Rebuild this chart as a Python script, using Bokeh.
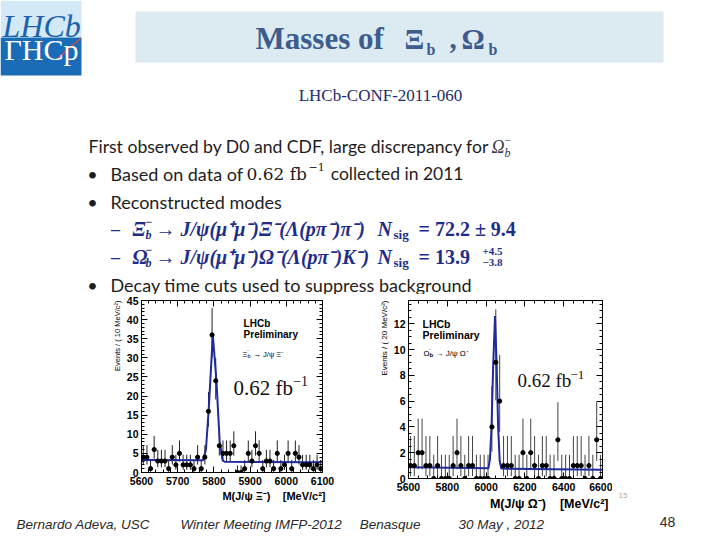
import math
from bokeh.plotting import figure
from bokeh.models import Range1d, Label, LinearAxis, SingleIntervalTicker, Spacer, Title
from bokeh.layouts import column, row
from bokeh.embed import file_html
from bokeh.resources import INLINE

# ---------------------------------------------------------------- data
# Xi_b candidates, 10 MeV/c^2 bins from 5600 to 6100
xib_lo, xib_bin = 5600, 10
xib_counts = [4, 4, 1, 6, 3, 3, 3, 1, 4, 2,
              5, 2, 2, 2, 1, 4, 1, 4, 16, 36,
              24, 7, 5, 5, 5, 7, 0, 0, 1, 5,
              3, 7, 5, 1, 3, 3, 1, 5, 1, 2,
              5, 1, 5, 4, 2, 2, 2, 1, 2, 1]
# fitted signal + background shape
xib_fit_mass = [5600, 5770, 5778, 5786, 5797, 5807, 5816, 5824, 5830, 6100]
xib_fit_evts = [3.3, 3.2, 6.0, 17.0, 36.0, 24.0, 8.0, 3.2, 2.8, 2.7]

# Omega_b candidates, 20 MeV/c^2 bins from 5600 to 6600
omb_lo, omb_bin = 5600, 20
omb_counts = [1, 1, 2, 2, 1, 1, 0, 1, 0, 0,
              0, 1, 2, 1, 0, 1, 1, 0, 0, 0,
              0, 4, 9, 6, 1, 1, 1, 0, 0, 2,
              0, 2, 1, 0, 1, 1, 0, 0, 3, 0,
              0, 0, 1, 1, 1, 0, 1, 0, 3, 0]
omb_fit_mass = [5600, 6012, 6020, 6028, 6036, 6046, 6054, 6062, 6070, 6078, 6600]
omb_fit_evts = [0.87, 0.80, 1.5, 4.0, 8.5, 12.6, 9.0, 4.0, 1.4, 0.77, 0.68]

xib_ticks_x, xib_ticks_y = 100, 5
omb_ticks_x, omb_ticks_y = 200, 2

GAP = "\u00a0\u00a0\u00a0\u00a0"

# ---------------------------------------------------------------- helpers
def pois_cdf(k, mu):
    term = math.exp(-mu)
    s = term
    for i in range(1, k + 1):
        term *= mu / i
        s += term
    return s


def poisson_interval(n, tail=0.158655):
    """Central 68.3% Poisson interval (as drawn by ROOT for event counts)."""
    def solve(f, target):
        lo, hi = 0.0, n + 20 + 10 * math.sqrt(n + 1)
        for _ in range(80):
            mid = 0.5 * (lo + hi)
            if f(mid) > target:
                lo = mid
            else:
                hi = mid
        return 0.5 * (lo + hi)
    low = 0.0 if n == 0 else solve(lambda mu: pois_cdf(n - 1, mu), 1 - tail)
    up = solve(lambda mu: pois_cdf(n, mu), tail)
    return low, up


def put(fig, x, y, s, size, font="Lato", style="normal", color="#1a1a1a",
        align="left", baseline="middle", angle=0.0, dx=0, dy=0):
    fig.add_layout(Label(x=x, y=y, text=s, text_font_size=f"{size}px",
                         text_font=font, text_font_style=style,
                         text_color=color, text_align=align,
                         text_baseline=baseline, angle=angle,
                         x_offset=dx, y_offset=dy))


def canvas(width, height, x0, x1, y_top, y_bottom):
    """Axis-free figure whose data units are slide pixels (y grows downward)."""
    fig = figure(width=width, height=height, x_range=Range1d(x0, x1),
                 y_range=Range1d(y_bottom, y_top), output_backend="svg",
                 toolbar_location=None, min_border=0,
                 x_axis_type=None, y_axis_type=None)
    fig.grid.visible = False
    fig.outline_line_color = None
    fig.background_fill_color = "white"
    fig.border_fill_color = "white"
    return fig


TICK_FONT = "Liberation Sans"


def root_style(p, xint, yint, xminor, yminor, xlabel, ylabel, xl_size, yl_size,
               xl_standoff, xl_offset):
    p.grid.visible = False
    p.outline_line_color = "black"
    p.outline_line_width = 1
    p.background_fill_color = "white"
    p.border_fill_color = "white"
    for ax, iv, nm in ((p.xaxis[0], xint, xminor), (p.yaxis[0], yint, yminor)):
        ax.ticker = SingleIntervalTicker(interval=iv, num_minor_ticks=nm)
        ax.major_tick_in, ax.major_tick_out = 6, 0
        ax.minor_tick_in, ax.minor_tick_out = 3, 0
        ax.axis_line_color = "black"
        ax.major_label_text_font = TICK_FONT
        ax.major_label_text_font_style = "bold"
        ax.major_label_text_font_size = "10.5px"
        ax.major_label_text_color = "black"
    p.xaxis[0].major_label_standoff = 4
    p.yaxis[0].major_label_standoff = 3
    # axis titles flush with the far end of each axis
    p.add_layout(Title(text=xlabel, align="right", text_font=TICK_FONT,
                       text_font_style="bold", text_font_size=f"{xl_size}px",
                       text_color="black", standoff=xl_standoff,
                       offset=xl_offset), "below")
    p.add_layout(Title(text=ylabel, align="right", text_font=TICK_FONT,
                       text_font_style="normal", text_font_size=f"{yl_size}px",
                       text_color="black", standoff=3), "left")
    # ticks on the opposite sides, no labels
    for side, iv, nm in (("right", yint, yminor), ("above", xint, xminor)):
        ax = LinearAxis(ticker=SingleIntervalTicker(interval=iv, num_minor_ticks=nm),
                        major_tick_in=6, major_tick_out=0,
                        minor_tick_in=3, minor_tick_out=0,
                        major_label_text_font_size="0px",
                        major_label_standoff=0)
        p.add_layout(ax, side)


def draw_hist(p, lo, width, counts, fit_x, fit_y, bar_color, size=4.2):
    centers = [lo + width * (i + 0.5) for i in range(len(counts))]
    lows, highs = zip(*[poisson_interval(n) for n in counts])
    p.segment(x0=centers, y0=list(lows), x1=centers, y1=list(highs),
              line_color=bar_color, line_width=1)
    p.segment(x0=[c - width / 2 for c in centers], y0=counts,
              x1=[c + width / 2 for c in centers], y1=counts,
              line_color=bar_color, line_width=1)
    p.line(fit_x, fit_y, line_color="#1f2a9c", line_width=2)
    p.scatter(centers, counts, size=size, color="black")


# ---------------------------------------------------------------- header
header = canvas(720, 294, 0, 720, 0, 294)

# logo
header.quad(left=0, right=81, top=0, bottom=37, fill_color="#d3e9f6", line_color=None)
header.quad(left=0, right=81, top=37, bottom=75, fill_color="#1a6cb6", line_color=None)
put(header, 2, 25.5, "LHCb", 32, font="Liberation Serif", style="italic",
    color="#1e62ab")
put(header, 4, 48.5, "ΓHCp", 30, font="Liberation Serif", color="white")
header.line([57, 80], [58, 38], line_color="#d9474a", line_width=1.3)

# title banner
header.quad(left=135, right=663, top=11, bottom=62, fill_color="#dceaf2", line_color=None)
TITLE_C = "#3d5c8e"
put(header, 255, 38, "Masses of", 31, font="Liberation Serif", style="bold", color=TITLE_C)
put(header, 404, 38, "Ξ", 29, font="Liberation Serif", style="bold", color=TITLE_C)
put(header, 426, 49, "b", 16, font="Liberation Serif", style="bold", color=TITLE_C)
put(header, 449, 38, ",", 29, font="Liberation Serif", style="bold", color=TITLE_C)
put(header, 461, 38, "Ω", 29, font="Liberation Serif", style="bold", color=TITLE_C)
put(header, 488, 49, "b", 16, font="Liberation Serif", style="bold", color=TITLE_C)

put(header, 380, 95, "LHCb-CONF-2011-060", 17, font="Liberation Serif",
    color="#1c2a6c", align="center")

# bullet list
TXT = "#1d1d1d"
MATH = "#3a3a48"
BLUE = "#1f2d8a"
put(header, 88, 146, "First observed by D0 and CDF, large discrepancy for", 17.6, color=TXT)
put(header, 491, 146, "Ω", 18, font="Liberation Serif", style="italic", color=MATH)
put(header, 504, 152, "b", 12, font="Liberation Serif", style="italic", color=MATH)
put(header, 504, 139, "−", 12, font="Liberation Serif", color=MATH)

put(header, 92, 173, "•", 18, color=TXT, align="center")
put(header, 110, 173, "Based on data of", 18, color=TXT)
put(header, 246, 173, "0.62 fb", 17, font="DejaVu Serif", color=TXT)
put(header, 308, 166, "−1", 11, font="DejaVu Serif", color=TXT)
put(header, 463, 173, "collected in 2011", 17.5, color=TXT, align="right")

put(header, 92, 201, "•", 18, color=TXT, align="center")
put(header, 110, 201, "Reconstructed modes", 18, color=TXT)

FM = "Liberation Serif"
for yy, head, chain, result, sup, sub in (
        (228, "Ξ", "→ J/ψ(μ⁺μ⁻)Ξ⁻(Λ(pπ⁻)π⁻)", "= 72.2 ± 9.4", None, None),
        (256, "Ω", "→ J/ψ(μ⁺μ⁻)Ω⁻(Λ(pπ⁻)K⁻)", "= 13.9", "+4.5", "−3.8")):
    put(header, 115, yy, "–", 18, font=FM, style="bold", color=BLUE, align="center")
    put(header, 132, yy, head, 20, font=FM, style="bold italic", color=BLUE)
    put(header, 145, yy + 6, "b", 12, font=FM, style="bold italic", color=BLUE)
    put(header, 145, yy - 7, "−", 12, font=FM, style="bold", color=BLUE)
    put(header, 155, yy, chain, 20, font=FM, style="bold italic", color=BLUE)
    put(header, 377, yy, "N", 20, font=FM, style="bold italic", color=BLUE)
    put(header, 393, yy + 6, "sig", 13, font=FM, style="bold", color=BLUE)
    put(header, 418, yy, result, 20, font=FM, style="bold", color=BLUE)
    if sup:
        put(header, 482, yy - 5, sup, 11, font=FM, style="bold", color=BLUE)
        put(header, 482, yy + 6, sub, 11, font=FM, style="bold", color=BLUE)

put(header, 92, 284, "•", 18, color=TXT, align="center")
put(header, 110, 284, "Decay time cuts used to suppress background", 18, color=TXT)

# ---------------------------------------------------------------- Xi_b plot
p1 = figure(width=258, height=218, x_range=Range1d(5600, 6100),
            y_range=Range1d(0, 45), output_backend="svg", toolbar_location=None,
            min_border_left=59, min_border_right=18, min_border_top=6,
            min_border_bottom=40)
root_style(p1, xib_ticks_x, xib_ticks_y, 5, 5,
           "M(J/ψ Ξ⁻)" + GAP + "[MeV/c²]", "Events / ( 10 MeV/c²)", 11, 7.5, 1, -3)
draw_hist(p1, xib_lo, xib_bin, xib_counts, xib_fit_mass, xib_fit_evts, "#222222")
put(p1, 5882, 38.9, "LHCb", 10, font=TICK_FONT, style="bold", color="black")
put(p1, 5882, 36.0, "Preliminary", 10, font=TICK_FONT, style="bold", color="black")
put(p1, 5879, 31.0, "Ξ", 7.5, font=TICK_FONT, color="black")
put(p1, 5879, 31.0, "b", 5.5, font=TICK_FONT, color="black", dx=5, dy=-2)
put(p1, 5879, 31.0, "⁻", 6, font=TICK_FONT, color="black", dx=5, dy=2)
put(p1, 5879, 31.0, "→ J/ψ Ξ⁻", 7.5, font=TICK_FONT, color="black", dx=11)
put(p1, 5854, 22.0, "0.62 fb", 21, font="Liberation Serif", color="#111111")
put(p1, 6019, 23.9, "−1", 14, font="Liberation Serif", color="#111111")

# ---------------------------------------------------------------- Omega_b plot
p2 = figure(width=246, height=218, x_range=Range1d(5600, 6600),
            y_range=Range1d(0, 13.8), output_backend="svg", toolbar_location=None,
            min_border_left=42, min_border_right=10, min_border_top=6,
            min_border_bottom=34)
root_style(p2, omb_ticks_x, omb_ticks_y, 4, 4,
           "M(J/ψ Ω⁻)" + GAP + "[MeV/c²]", "Events / ( 20 MeV/c²)", 12.5, 8, 3, -6)
draw_hist(p2, omb_lo, omb_bin, omb_counts, omb_fit_mass, omb_fit_evts, "#444444")
put(p2, 5672, 12.0, "LHCb", 10.5, font=TICK_FONT, style="bold", color="black")
put(p2, 5672, 11.1, "Preliminary", 10.5, font=TICK_FONT, style="bold", color="black")
put(p2, 5677, 9.7, "Ω", 8, font=TICK_FONT, color="black")
put(p2, 5677, 9.7, "b", 6, font=TICK_FONT, style="bold", color="black", dx=6, dy=-2)
put(p2, 5677, 9.7, "⁻", 6, font=TICK_FONT, color="black", dx=6, dy=2)
put(p2, 5677, 9.7, "→ J/ψ Ω⁻", 8, font=TICK_FONT, color="black", dx=12)
put(p2, 6162, 7.6, "0.62 fb", 19, font="Liberation Serif", color="#111111")
put(p2, 6435, 8.0, "−1", 13, font="Liberation Serif", color="#111111")

# strip to the right of the second plot (slide page mark)
side = canvas(108, 218, 612, 720, 294, 512)
put(side, 618, 495, "15", 8, font=TICK_FONT, color="#aaaaaa")

# ---------------------------------------------------------------- footer
footer = canvas(720, 28, 0, 720, 512, 540)
FOOT = "#2a2a2a"
put(footer, 16, 524, "Bernardo Adeva, USC", 13.5, font="Liberation Sans", style="italic", color=FOOT)
put(footer, 180, 524, "Winter Meeting IMFP-2012", 13.5, font="Liberation Sans", style="italic", color=FOOT)
put(footer, 420, 524, "Benasque", 13.5, font="Liberation Sans", style="italic", color=FOOT, align="right")
put(footer, 458, 524, "30 May , 2012", 13.5, font="Liberation Sans", style="italic", color=FOOT)
put(footer, 667, 521, "48", 14, font="Liberation Sans", color=FOOT, align="center")

# each panel in its own column so the row does not line up their frames
layout = column(
    header,
    row(Spacer(width=82, height=218), column(p1), Spacer(width=26, height=218),
        column(p2), column(side), spacing=0),
    footer,
    spacing=0,
)

open("out.html", "w").write(file_html(layout, INLINE))
